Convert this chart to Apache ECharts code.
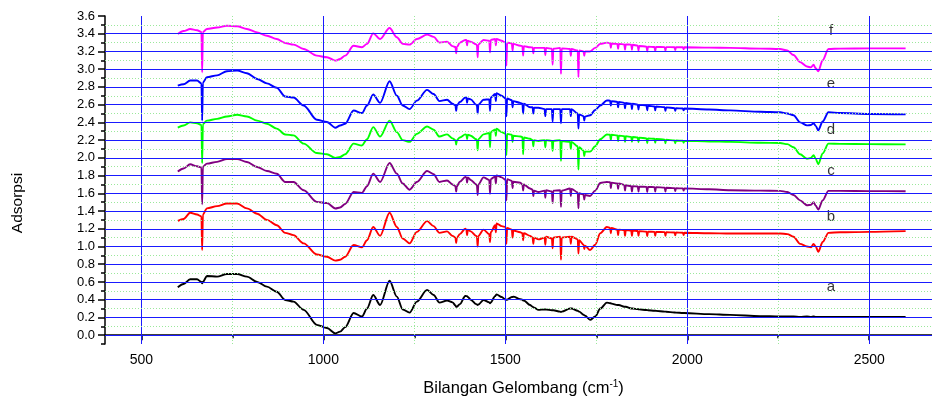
<!DOCTYPE html>
<html><head><meta charset="utf-8">
<script src="https://cdn.jsdelivr.net/npm/echarts@6/dist/echarts.min.js"></script>
<style>html,body{margin:0;padding:0;background:#fff}#c{width:932px;height:400px}</style>
</head><body><div id="c"></div>
<script>
const wavenumber = [
600,616,634,653,665,667,669,680,708,735,763,790,818,845,872,895,918,946,982,1010,1033,1046,1060,1083,1106,1120,1137,1156,1182,1202,1218,1237,1257,1285,1303,1319,1340,
1355,1363,1365,1367,1375,1390,1393,1395,1397,1405,1420,1422,1424,1426,1440,1456,1458,1460,1472,1474,1476,1490,1501,1503,1505,1518,1520,1522,1541,1547,1549,1551,1568,1575,1577,1579,1591,1608,1610,1612,1628,1630,1632,1651,1653,1655,1678,1680,1682,1699,1701,1703,1715,1717,1719,1733,1747,1761,1779,
1788,1790,1792,1808,1810,1812,1827,1829,1831,1846,1848,1850,1864,1866,1868,1888,1890,1892,1910,1912,1914,1938,1940,1942,1965,1967,1969,1988,1990,1992,2060,2118,2200,2255,2275,2292,2310,2329,2340,2347,2353,2360,2372,2388,2420,2500,2600];

const curveA = [
.54,.577,.63,.63,.60,.585,.60,.667,.66,.69,.69,.66,.60,.547,.49,.397,.378,.285,.116,.08,.02,.04,.09,.25,.21,.30,.453,.34,.614,.434,.29,.254,.378,.51,.453,.367,.39,
.37,.335,.32,.32,.35,.442,.44,.44,.43,.40,.35,.345,.34,.345,.397,.37,.36,.37,.44,.45,.46,.43,.40,.40,.40,.43,.43,.434,.405,.40,.39,.39,.34,.32,.315,.31,.285,.29,.29,.29,.28,.28,.28,.265,.26,.265,.30,.30,.30,.275,.27,.265,.23,.225,.22,.172,.21,.30,.367,
.36,.36,.355,.34,.34,.34,.32,.32,.32,.30,.30,.30,.293,.292,.291,.283,.282,.281,.275,.275,.274,.265,.265,.264,.255,.255,.254,.25,.25,.249,.237,.228,.215,.21,.21,.21,.205,.21,.205,.21,.205,.205,.205,.205,.205,.205,.205];

const curveB = [
1.29,1.31,1.38,1.36,1.34,.96,1.36,1.43,1.455,1.485,1.485,1.43,1.37,1.30,1.24,1.154,1.128,1.035,.91,.884,.84,.85,.884,1.016,.99,1.07,1.22,1.12,1.38,1.22,1.09,1.035,1.165,1.286,1.23,1.154,1.17,
1.12,1.10,1.04,1.10,1.14,1.20,1.19,1.13,1.19,1.17,1.12,1.11,1.00,1.12,1.19,1.14,1.05,1.16,1.24,1.16,1.26,1.23,1.22,1.03,1.21,1.19,1.10,1.18,1.16,1.15,1.07,1.15,1.12,1.10,1.03,1.10,1.08,1.10,1.02,1.11,1.09,.98,1.10,1.11,.85,1.10,1.11,1.03,1.11,1.08,.92,1.07,1.02,.97,1.01,.96,1.02,1.15,1.22,
1.21,1.15,1.21,1.19,1.13,1.19,1.185,1.12,1.185,1.18,1.12,1.18,1.175,1.12,1.172,1.168,1.115,1.167,1.165,1.12,1.165,1.162,1.12,1.161,1.158,1.125,1.158,1.155,1.13,1.155,1.15,1.146,1.146,1.147,1.14,1.11,1.03,1.0,.99,1.03,1.00,.94,1.05,1.154,1.16,1.165,1.173];

const curveC = [
1.845,1.88,1.927,1.905,1.89,1.477,1.90,1.935,1.955,1.987,1.987,1.953,1.897,1.852,1.82,1.728,1.728,1.634,1.503,1.49,1.428,1.44,1.48,1.615,1.605,1.68,1.822,1.728,1.942,1.822,1.71,1.64,1.728,1.852,1.815,1.728,1.745,
1.70,1.68,1.62,1.68,1.73,1.784,1.78,1.72,1.78,1.75,1.70,1.69,1.58,1.70,1.78,1.75,1.595,1.76,1.79,1.71,1.80,1.78,1.75,1.52,1.76,1.74,1.66,1.73,1.72,1.70,1.63,1.70,1.654,1.64,1.57,1.63,1.615,1.63,1.55,1.634,1.62,1.49,1.63,1.634,1.447,1.63,1.654,1.57,1.65,1.61,1.43,1.60,1.585,1.53,1.58,1.57,1.63,1.717,1.728,
1.725,1.66,1.72,1.71,1.65,1.71,1.695,1.63,1.69,1.68,1.62,1.68,1.677,1.62,1.675,1.672,1.615,1.671,1.67,1.62,1.669,1.664,1.62,1.663,1.658,1.625,1.657,1.655,1.63,1.655,1.645,1.634,1.63,1.627,1.615,1.58,1.52,1.466,1.47,1.50,1.46,1.417,1.52,1.627,1.627,1.625,1.623];

const curveD = [
2.34,2.365,2.40,2.39,2.37,1.94,2.38,2.42,2.44,2.467,2.486,2.467,2.42,2.385,2.33,2.264,2.253,2.16,2.054,2.04,1.998,2.01,2.04,2.16,2.14,2.21,2.347,2.24,2.42,2.29,2.20,2.18,2.27,2.354,2.317,2.24,2.265,
2.22,2.20,2.15,2.20,2.23,2.265,2.26,2.21,2.26,2.25,2.21,2.20,2.084,2.21,2.265,2.28,2.12,2.29,2.32,2.25,2.33,2.29,2.27,2.03,2.27,2.26,2.18,2.25,2.24,2.235,2.04,2.23,2.215,2.20,2.13,2.20,2.19,2.20,2.12,2.20,2.19,2.08,2.19,2.20,1.965,2.19,2.18,2.10,2.18,2.13,1.867,2.12,2.08,2.02,2.07,2.07,2.13,2.21,2.264,
2.26,2.20,2.26,2.253,2.19,2.25,2.245,2.18,2.245,2.235,2.18,2.235,2.23,2.175,2.228,2.22,2.165,2.219,2.215,2.17,2.214,2.205,2.165,2.204,2.196,2.165,2.195,2.192,2.17,2.191,2.185,2.18,2.17,2.167,2.155,2.12,2.04,1.99,2.0,2.03,1.99,1.927,2.05,2.16,2.157,2.155,2.152];

const curveE = [
2.815,2.83,2.872,2.872,2.84,2.42,2.85,2.91,2.93,2.977,2.985,2.955,2.89,2.84,2.79,2.692,2.68,2.59,2.43,2.404,2.34,2.365,2.385,2.534,2.505,2.59,2.714,2.62,2.864,2.70,2.59,2.55,2.645,2.767,2.72,2.64,2.655,
2.61,2.59,2.53,2.59,2.63,2.68,2.68,2.62,2.67,2.66,2.60,2.59,2.50,2.60,2.655,2.66,2.53,2.68,2.72,2.64,2.73,2.70,2.67,2.468,2.67,2.65,2.57,2.64,2.62,2.61,2.50,2.61,2.57,2.57,2.50,2.565,2.565,2.55,2.47,2.55,2.55,2.41,2.55,2.55,2.39,2.55,2.55,2.47,2.55,2.50,2.33,2.49,2.47,2.42,2.465,2.48,2.54,2.59,2.647,
2.645,2.59,2.64,2.63,2.57,2.63,2.62,2.56,2.62,2.61,2.55,2.61,2.60,2.545,2.598,2.59,2.535,2.588,2.58,2.535,2.579,2.57,2.53,2.569,2.56,2.53,2.56,2.557,2.535,2.556,2.545,2.535,2.52,2.515,2.50,2.48,2.40,2.366,2.37,2.39,2.36,2.31,2.41,2.515,2.505,2.495,2.49];

const curveF = [
3.397,3.43,3.453,3.44,3.42,2.965,3.42,3.453,3.47,3.49,3.485,3.453,3.415,3.378,3.34,3.296,3.277,3.228,3.153,3.134,3.097,3.115,3.153,3.265,3.247,3.285,3.404,3.34,3.464,3.36,3.285,3.277,3.34,3.39,3.365,3.30,3.31,
3.26,3.25,3.18,3.25,3.30,3.33,3.33,3.27,3.32,3.31,3.28,3.27,3.134,3.28,3.33,3.32,3.19,3.33,3.34,3.27,3.34,3.32,3.30,3.04,3.30,3.29,3.21,3.285,3.265,3.26,3.153,3.26,3.247,3.245,3.18,3.24,3.24,3.24,3.16,3.24,3.23,3.05,3.23,3.24,2.947,3.235,3.228,3.15,3.228,3.21,2.91,3.21,3.20,3.15,3.20,3.20,3.24,3.285,3.30,
3.295,3.24,3.29,3.285,3.23,3.285,3.28,3.22,3.28,3.277,3.22,3.275,3.265,3.21,3.262,3.255,3.20,3.254,3.25,3.205,3.25,3.249,3.21,3.249,3.248,3.215,3.248,3.247,3.225,3.247,3.243,3.24,3.232,3.228,3.21,3.16,3.08,3.03,3.02,3.05,3.01,2.976,3.10,3.228,3.232,3.235,3.235];

const curveNames = ['a','b','c','d','e','f'];
const curveColors = ['#000000','#ff0000','#800080','#00ff00','#0000ff','#ff00ff'];
const curveLabelX = 2395;
const curveLabelY = [0.546,1.33,1.848,2.31,2.83,3.434];

const xLabelTicks = [500,1000,1500,2000,2500];
const xMinorTicks = [750,1250,1750,2250];
const yLabelTicks = [0.0,0.2,0.4,0.6,0.8,1.0,1.2,1.4,1.6,1.8,2.0,2.2,2.4,2.6,2.8,3.0,3.2,3.4,3.6];
const yMinorTicks = [-0.1,0.1,0.3,0.5,0.7,0.9,1.1,1.3,1.5,1.7,1.9,2.1,2.3,2.5,2.7,2.9,3.1,3.3,3.5];
const yMajorGrid = [0.0,0.2,0.4,0.6,0.8,1.0,1.2,1.4,1.6,1.8,2.0,2.2,2.4,2.6,2.8,3.0,3.2,3.4];

const curves = [curveA, curveB, curveC, curveD, curveE, curveF];
const FONT = 'Liberation Sans, Arial, sans-serif';

const chart = echarts.init(document.getElementById('c'), null, {renderer: 'canvas'});

const majorStyle = {color: '#1a1aff', width: 1, type: 'solid'};
const minorStyle = {color: '#9be89b', width: 1, type: [1, 2]};

const gridLines = [];
xLabelTicks.forEach(v => gridLines.push({xAxis: v, lineStyle: majorStyle}));
xMinorTicks.forEach(v => gridLines.push({xAxis: v, lineStyle: minorStyle}));
yMajorGrid.forEach(v => gridLines.push({yAxis: v, lineStyle: majorStyle}));
yMinorTicks.filter(v => v > 0).forEach(v => gridLines.push({yAxis: v, lineStyle: minorStyle}));

const series = [{
  type: 'line', data: [], silent: true, z: 1,
  markLine: {silent: true, symbol: 'none', label: {show: false}, animation: false, data: gridLines}
}];
curves.forEach((c, i) => {
  series.push({
    type: 'line', name: curveNames[i], z: 3,
    data: wavenumber.map((w, k) => [w, c[k]]),
    showSymbol: false, symbol: 'none',
    smooth: 0.3, smoothMonotone: 'x',
    lineStyle: {color: curveColors[i], width: 1.9},
    itemStyle: {color: curveColors[i]}
  });
});
series.push({
  type: 'scatter', z: 4, symbolSize: 0, silent: true,
  data: curveLabelY.map(y => [curveLabelX, y]),
  label: {show: true, position: 'inside', color: '#000', fontSize: 15, fontFamily: FONT,
    formatter: p => curveNames[p.dataIndex]}
});

chart.setOption({
  animation: false,
  backgroundColor: '#fff',
  grid: {left: 105, top: 16, width: 837, height: 328, containLabel: false, outerBoundsMode: 'none'},
  graphic: [{
    type: 'text', x: 18, y: 203, rotation: Math.PI / 2,
    style: {text: 'Adsorpsi', fontSize: 15.5, fontFamily: FONT, fill: '#000', align: 'center', verticalAlign: 'middle'}
  }],
  xAxis: [{
    type: 'value', min: 400, max: 2700, position: 'bottom',
    name: 'Bilangan Gelombang (cm{sup|-1})', nameLocation: 'middle', nameGap: 35,
    nameTextStyle: {fontSize: 16.5, fontFamily: FONT, color: '#000',
      rich: {sup: {fontSize: 10, verticalAlign: 'top', padding: [0,0,9,0], fontFamily: FONT, color: '#000'}}},
    axisLine: {show: true, lineStyle: {color: '#000', width: 1.5}},
    axisTick: {show: true, length: 5, customValues: xLabelTicks, lineStyle: {color: '#000', width: 1.5}},
    axisLabel: {show: true, customValues: xLabelTicks, fontSize: 14, fontFamily: FONT, color: '#000', margin: 9,
      formatter: v => String(v)},
    splitLine: {show: false}
  }, {
    type: 'value', min: 400, max: 2700, position: 'bottom',
    axisLine: {show: false},
    axisTick: {show: true, length: 3, customValues: xMinorTicks, lineStyle: {color: '#000', width: 1.5}},
    axisLabel: {show: false},
    splitLine: {show: false}
  }],
  yAxis: [{
    type: 'value', min: -0.1, max: 3.6, position: 'left',
    axisLine: {show: true, lineStyle: {color: '#000', width: 1.5}},
    axisTick: {show: true, length: 7, customValues: yLabelTicks, lineStyle: {color: '#000', width: 1.5}},
    axisLabel: {show: true, customValues: yLabelTicks, fontSize: 13, fontFamily: FONT, color: '#000', margin: 10,
      formatter: v => Number(v).toFixed(1)},
    splitLine: {show: false}
  }, {
    type: 'value', min: -0.1, max: 3.6, position: 'left',
    axisLine: {show: false},
    axisTick: {show: true, length: 4, customValues: yMinorTicks, lineStyle: {color: '#000', width: 1.5}},
    axisLabel: {show: false},
    splitLine: {show: false}
  }],
  series: series
});
</script></body></html>
